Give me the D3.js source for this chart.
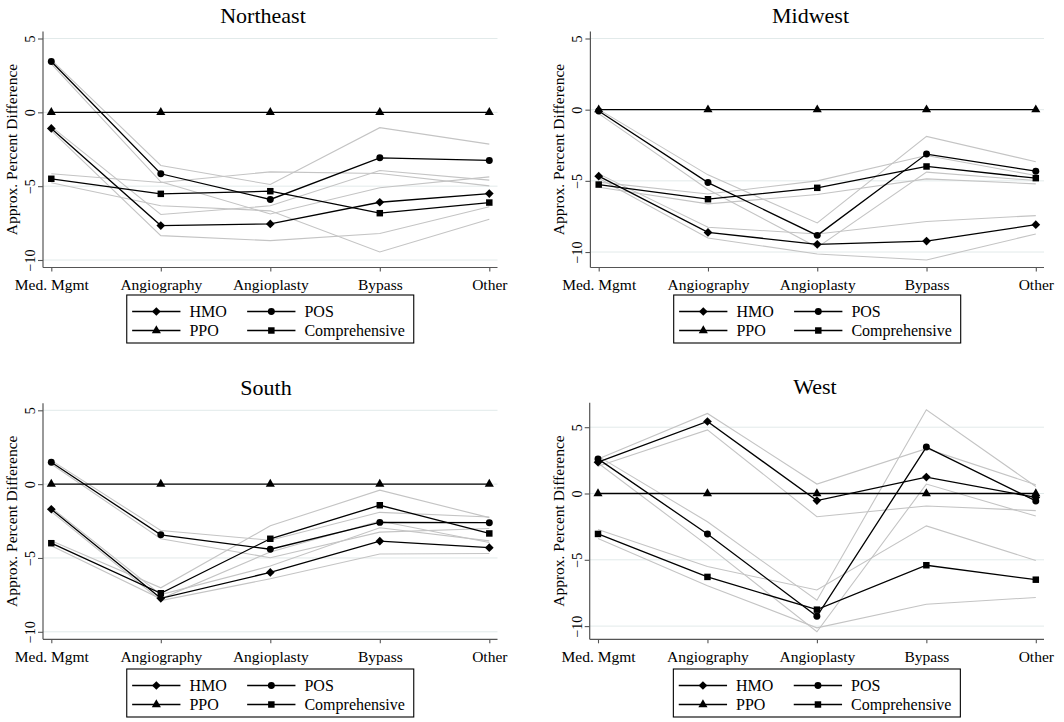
<!DOCTYPE html>
<html><head><meta charset="utf-8">
<script src="https://cdn.jsdelivr.net/npm/d3@7"></script>
<style>
body{margin:0;background:#fff}
svg{display:block}
text{font-family:"Liberation Serif","Times New Roman",Times,serif;fill:#000}
</style>
</head><body>
<svg id="chart" width="1064" height="722"></svg>
<script>
// ---------------- DATA ----------------
const categories = ["Med. Mgmt", "Angiography", "Angioplasty", "Bypass", "Other"];
const regions = ["Northeast", "Midwest", "South", "West"];
const yTicks = [5, 0, -5, -10];
const seriesNames = ["HMO", "POS", "PPO", "Comprehensive"];
const yTitle = "Approx. Percent Difference";

// rows: Northeast, Midwest, South, West ; columns follow categories
const hmoEst = [
  [-1.09, -7.67, -7.56, -6.09, -5.50],
  [-4.67, -8.62, -9.46, -9.23, -8.08],
  [-1.70, -7.73, -5.98, -3.86, -4.30],
  [2.36, 5.43, -0.53, 1.24, -0.30]
];
const hmoLo = [
  [-1.24, -8.35, -8.69, -8.21, -6.40],
  [-4.81, -9.01, -10.14, -10.56, -8.73],
  [-1.86, -7.89, -6.41, -4.73, -4.70],
  [2.06, 4.80, -1.75, -0.94, -1.29]
];
const hmoHi = [
  [-0.97, -6.92, -6.33, -3.94, -4.59],
  [-4.51, -8.26, -8.73, -7.86, -7.44],
  [-1.59, -7.48, -5.55, -2.95, -3.84],
  [2.60, 6.04, 0.71, 3.38, 0.66]
];
const posEst = [
  [3.44, -4.16, -5.90, -3.08, -3.26],
  [-0.09, -5.12, -8.83, -3.12, -4.32],
  [1.48, -3.43, -4.41, -2.59, -2.61],
  [2.61, -3.05, -9.26, 3.50, -0.56]
];
const posLo = [
  [3.28, -4.71, -6.88, -5.11, -4.37],
  [-0.28, -5.61, -9.67, -4.39, -4.98],
  [1.36, -3.70, -4.98, -3.25, -3.00],
  [2.30, -3.91, -10.43, 0.71, -1.70]
];
const posHi = [
  [3.55, -3.60, -4.89, -1.04, -2.15],
  [0.02, -4.58, -7.96, -1.88, -3.66],
  [1.61, -3.14, -3.80, -1.91, -2.23],
  [2.82, -2.13, -8.05, 6.32, 0.53]
];
const ppoEst = [
  [0, 0, 0, 0, 0],
  [0, 0, 0, 0, 0],
  [0, 0, 0, 0, 0],
  [0, 0, 0, 0, 0]
];
const compEst = [
  [-4.50, -5.52, -5.34, -6.83, -6.11],
  [-5.26, -6.29, -5.49, -3.99, -4.81],
  [-4.00, -7.39, -3.70, -1.43, -3.34],
  [-3.05, -6.29, -8.76, -5.41, -6.50]
];
const compLo = [
  [-4.77, -6.33, -6.67, -9.46, -7.24],
  [-5.45, -6.62, -5.96, -4.86, -5.21],
  [-4.18, -7.77, -4.59, -2.50, -3.95],
  [-3.40, -6.95, -10.13, -8.35, -7.84]
];
const compHi = [
  [-4.16, -4.75, -4.03, -4.14, -4.98],
  [-5.09, -5.92, -5.00, -3.22, -4.62],
  [-3.84, -7.02, -2.82, -0.41, -2.27],
  [-2.72, -5.51, -7.28, -2.44, -5.05]
];

// ---------------- LAYOUT ----------------
const panels = [
  {left: 43,    right: 497.5, top: 31.5,  bottom: 267.5, titleX: 263,   titleY: 23,  legTop: 295},
  {left: 590.4, right: 1044,  top: 31.5,  bottom: 267.5, titleX: 810.5, titleY: 23,  legTop: 295},
  {left: 43,    right: 497.5, top: 403.3, bottom: 639.3, titleX: 266,   titleY: 395, legTop: 669},
  {left: 589.7, right: 1044,  top: 402.7, bottom: 639.3, titleX: 815,   titleY: 394, legTop: 669}
];

const series = [
  {est: hmoEst,  lo: hmoLo,  hi: hmoHi,  sym: "diamond"},
  {est: posEst,  lo: posLo,  hi: posHi,  sym: "circle"},
  {est: ppoEst,  lo: null,   hi: null,   sym: "triangle"},
  {est: compEst, lo: compLo, hi: compHi, sym: "square"}
];

const svg = d3.select("#chart");
svg.append("rect").attr("width", 1064).attr("height", 722).attr("fill", "#fff");

function drawMarker(g, type, x, y) {
  let p;
  if (type === "diamond") {
    p = g.append("path").attr("d", d3.symbol(d3.symbolSquare, 38)())
      .attr("transform", `translate(${x},${y}) rotate(45)`);
  } else if (type === "circle") {
    p = g.append("path").attr("d", d3.symbol(d3.symbolCircle, 38)())
      .attr("transform", `translate(${x},${y})`);
  } else if (type === "triangle") {
    p = g.append("path").attr("d", d3.symbol(d3.symbolTriangle, 36)())
      .attr("transform", `translate(${x},${y})`);
  } else {
    p = g.append("path").attr("d", d3.symbol(d3.symbolSquare, 42)())
      .attr("transform", `translate(${x},${y})`);
  }
  p.attr("fill", "#000");
}

regions.forEach((region, ri) => {
  const P = panels[ri];
  const g = svg.append("g");

  const x = d3.scalePoint().domain(categories).range([P.left + 8.3, P.right - 8.2]);

  const allVals = [...yTicks];
  series.forEach(s => {
    allVals.push(...s.est[ri]);
    if (s.lo) allVals.push(...s.lo[ri], ...s.hi[ri]);
  });
  const y = d3.scaleLinear().domain(d3.extent(allVals)).range([P.bottom - 7.5, P.top + 7]);

  // gridlines
  g.append("g").selectAll("line").data(yTicks).join("line")
    .attr("x1", P.left).attr("x2", P.right)
    .attr("y1", d => y(d)).attr("y2", d => y(d))
    .attr("stroke", "#e2eaea").attr("stroke-width", 1);

  // y axis
  const yAxis = d3.axisLeft(y).tickValues(yTicks).tickSize(5).tickFormat(d3.format("d"));
  const ya = g.append("g").attr("transform", `translate(${P.left},0)`).call(yAxis);
  ya.select(".domain").remove();
  ya.selectAll(".tick line").attr("stroke", "#555").attr("stroke-width", 1.1);
  ya.selectAll(".tick text")
    .attr("x", 0).attr("y", 0).attr("dy", 0)
    .attr("text-anchor", "middle")
    .attr("transform", "translate(-8,0) rotate(-90)")
    .style("font-family", '"Liberation Serif","Times New Roman",serif')
    .style("font-size", "14px").attr("fill", "#000");

  // x axis
  const xAxis = d3.axisBottom(x).tickSize(4);
  const xa = g.append("g").attr("transform", `translate(0,${P.bottom})`).call(xAxis);
  xa.select(".domain").remove();
  xa.selectAll(".tick line").attr("stroke", "#555").attr("stroke-width", 1.1);
  xa.selectAll(".tick text")
    .attr("y", 22.5).attr("dy", 0)
    .style("font-family", '"Liberation Serif","Times New Roman",serif')
    .style("font-size", "15.5px").attr("fill", "#000");

  // axis lines
  g.append("line").attr("x1", P.left).attr("x2", P.left).attr("y1", P.top).attr("y2", P.bottom)
    .attr("stroke", "#555").attr("stroke-width", 1.2);
  g.append("line").attr("x1", P.left).attr("x2", P.right).attr("y1", P.bottom).attr("y2", P.bottom)
    .attr("stroke", "#555").attr("stroke-width", 1.2);

  // y title
  const ty = (P.top + P.bottom) / 2, tx = P.left - 26;
  g.append("text").attr("x", tx).attr("y", ty)
    .attr("transform", `rotate(-90,${tx},${ty})`)
    .attr("text-anchor", "middle").style("font-size", "15.5px").text(yTitle);

  // title
  g.append("text").attr("x", P.titleX).attr("y", P.titleY)
    .attr("text-anchor", "middle").style("font-size", "22px").text(region);

  const line = d3.line().x((d, i) => x(categories[i])).y(d => y(d));

  // CI lines (gray)
  series.forEach(s => {
    if (!s.lo) return;
    [s.lo[ri], s.hi[ri]].forEach(arr => {
      g.append("path").attr("d", line(arr)).attr("fill", "none")
        .attr("stroke", "#c4c4c4").attr("stroke-width", 1.1);
    });
  });

  // estimate lines + markers
  series.forEach(s => {
    g.append("path").attr("d", line(s.est[ri])).attr("fill", "none")
      .attr("stroke", "#000").attr("stroke-width", 1.3);
  });
  series.forEach(s => {
    s.est[ri].forEach((v, i) => drawMarker(g, s.sym, x(categories[i]), y(v)));
  });

  // legend
  const lw = 287, lh = 48;
  const lx = (P.left + P.right) / 2 - lw / 2;
  const lg = g.append("g").attr("transform", `translate(${lx},${P.legTop})`);
  lg.append("rect").attr("x", 0).attr("y", 0).attr("width", lw).attr("height", lh)
    .attr("fill", "#fff").attr("stroke", "#000").attr("stroke-width", 1.1);
  const colX = [5.4, 120.4];
  const rowY = [16.5, 35.5];
  seriesNames.forEach((name, si) => {
    const cx = colX[si % 2], cy = rowY[Math.floor(si / 2)];
    lg.append("line").attr("x1", cx).attr("x2", cx + 48.3).attr("y1", cy).attr("y2", cy)
      .attr("stroke", "#000").attr("stroke-width", 1.3);
    drawMarker(lg, series[si].sym, cx + 24.2, cy);
    lg.append("text").attr("x", cx + 57.3).attr("y", cy + 5.5)
      .style("font-size", "16px").text(name);
  });
});
</script>
</body></html>
